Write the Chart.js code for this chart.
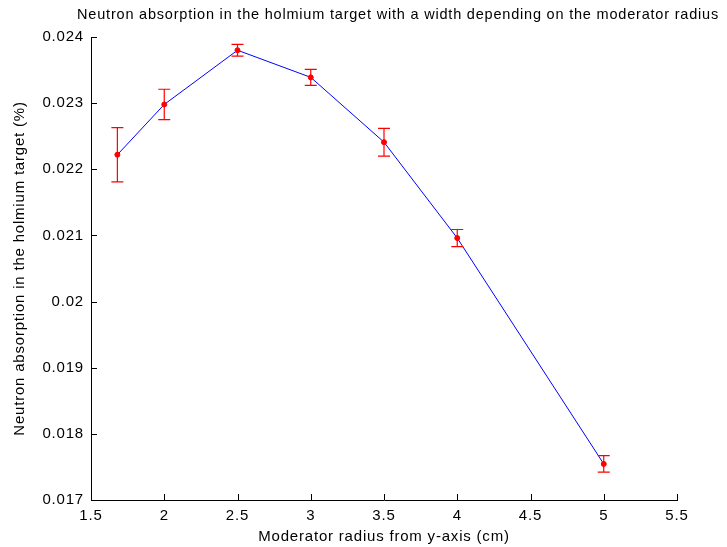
<!DOCTYPE html>
<html>
<head>
<meta charset="utf-8">
<script src="https://cdn.jsdelivr.net/npm/chart.js@4.4.1/dist/chart.umd.min.js"></script>
<style>
  html, body { margin: 0; padding: 0; background: #fff; }
  #wrap { width: 727px; height: 547px; }
</style>
</head>
<body>
<div id="wrap"><canvas id="chart" width="727" height="547"></canvas></div>
<script>
// values
const radius = [1.68, 2, 2.5, 3, 3.5, 4, 5];
const absorption = [0.02222, 0.02298, 0.02380, 0.02339, 0.02241, 0.02096, 0.017545];
const errors = [0.00041, 0.00023, 0.00009, 0.00012, 0.00021, 0.00013, 0.000125];

const chartTitle = "Neutron absorption in the holmium target with a width depending on the moderator radius";
const xTitle = "Moderator radius from y-axis (cm)";
const yTitle = "Neutron absorption in the holmium target (%)";

const FONT = "'Liberation Sans', Arial, sans-serif";
const SIZE = 15;

const textSpacing = {
  id: "textSpacing",
  beforeInit(chart) { chart.ctx.letterSpacing = "0.8px"; },
  beforeDraw(chart) { chart.ctx.letterSpacing = "0.8px"; }
};

const errorBars = {
  id: "errorBars",
  afterDatasetsDraw(chart) {
    const { ctx, scales: { x, y } } = chart;
    ctx.save();
    ctx.strokeStyle = "#ff0000";
    ctx.lineWidth = 1.2;
    radius.forEach((r, i) => {
      const px = x.getPixelForValue(r);
      const top = y.getPixelForValue(absorption[i] + errors[i]);
      const bot = y.getPixelForValue(absorption[i] - errors[i]);
      ctx.beginPath();
      ctx.moveTo(px, top); ctx.lineTo(px, bot);
      ctx.moveTo(px - 6, top); ctx.lineTo(px + 6, top);
      ctx.moveTo(px - 6, bot); ctx.lineTo(px + 6, bot);
      ctx.stroke();
    });
    ctx.restore();
  }
};

// MATLAB style inward ticks + title
const innerTicks = {
  id: "innerTicks",
  afterDraw(chart) {
    const { ctx, chartArea: a, scales: { x, y } } = chart;
    ctx.save();
    ctx.strokeStyle = "#000";
    ctx.lineWidth = 1;
    ctx.beginPath();
    x.ticks.forEach(t => {
      const px = Math.round(x.getPixelForValue(t.value)) + 0.5;
      ctx.moveTo(px, a.bottom); ctx.lineTo(px, a.bottom - 6);
    });
    y.ticks.forEach(t => {
      const py = Math.round(y.getPixelForValue(t.value)) + 0.5;
      ctx.moveTo(a.left, py); ctx.lineTo(a.left + 6, py);
    });
    ctx.stroke();
    ctx.fillStyle = "#000";
    ctx.font = "14.5px " + FONT;
    ctx.textAlign = "center";
    ctx.textBaseline = "middle";
    ctx.fillText(chartTitle, 398, 15);
    ctx.restore();
  }
};

new Chart(document.getElementById("chart"), {
  type: "line",
  data: {
    datasets: [{
      data: radius.map((r, i) => ({ x: r, y: absorption[i] })),
      borderColor: "#0000ff",
      borderWidth: 1,
      pointBackgroundColor: "#ff0000",
      pointBorderColor: "#ff0000",
      pointRadius: 2.5,
      tension: 0,
      fill: false
    }]
  },
  options: {
    responsive: false,
    animation: false,
    layout: { padding: { top: 37, right: 50, left: 0, bottom: 0 } },
    plugins: { legend: { display: false }, tooltip: { enabled: false } },
    scales: {
      x: {
        type: "linear",
        min: 1.5,
        max: 5.5,
        afterFit: s => { s.height = 47; },
        ticks: {
          stepSize: 0.5,
          color: "#000",
          padding: 7,
          font: { family: FONT, size: SIZE },
          callback: v => String(v)
        },
        grid: { drawOnChartArea: false, drawTicks: false },
        border: { color: "#000", width: 1 },
        title: {
          display: true,
          text: xTitle,
          color: "#000",
          font: { family: FONT, size: SIZE },
          padding: { top: 0, bottom: 1 }
        }
      },
      y: {
        min: 0.017,
        max: 0.024,
        afterFit: s => { s.width = 91; },
        ticks: {
          stepSize: 0.001,
          color: "#000",
          padding: 7,
          font: { family: FONT, size: SIZE },
          callback: v => String(+v.toFixed(3))
        },
        grid: { drawOnChartArea: false, drawTicks: false },
        border: { color: "#000", width: 1 },
        title: {
          display: true,
          text: yTitle,
          color: "#000",
          font: { family: FONT, size: SIZE },
          padding: { top: 11, bottom: 0 }
        }
      }
    }
  },
  plugins: [textSpacing, errorBars, innerTicks]
});
</script>
</body>
</html>
